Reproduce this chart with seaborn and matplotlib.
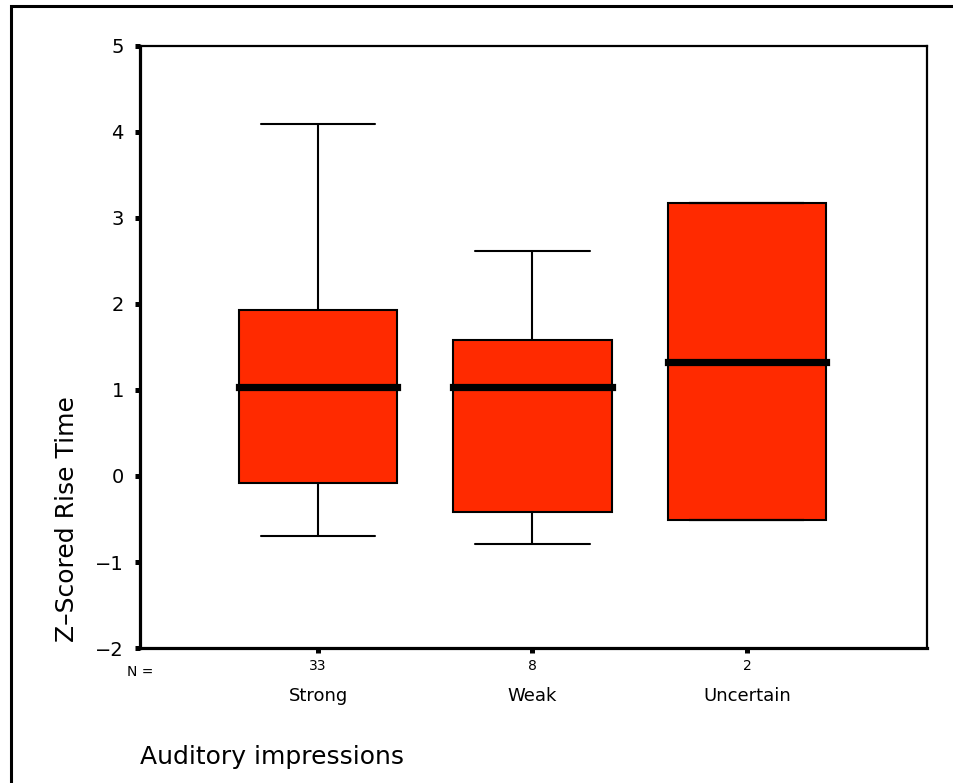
import pandas as pd
import matplotlib.pyplot as plt
import matplotlib.patches as mpatches
import seaborn as sns

# Values: [lower whisker, Q1, median, Q3, upper whisker]
categories = ["Strong", "Weak", "Uncertain"]
counts = [33, 8, 2]
strong_stats = [-0.70, -0.08, 1.03, 1.93, 4.09]
weak_stats = [-0.79, -0.42, 1.03, 1.58, 2.62]
uncertain_stats = [-0.51, -0.51, 1.32, 3.17, 3.17]
y_ticks = [-2, -1, 0, 1, 2, 3, 4, 5]

df = pd.DataFrame({
    "impression": [c for c, s in zip(categories, [strong_stats, weak_stats, uncertain_stats]) for _ in s],
    "z": strong_stats + weak_stats + uncertain_stats,
})

sns.set_style("white")
plt.rcParams["font.family"] = ["DejaVu Sans"]
plt.rcParams["text.color"] = "black"
plt.rcParams["axes.labelcolor"] = "black"
plt.rcParams["xtick.color"] = "black"
plt.rcParams["ytick.color"] = "black"

fig = plt.figure(figsize=(9.54, 7.83), dpi=100)
ax = fig.add_axes([0.1468, 0.1724, 0.9717 - 0.1468, 0.9413 - 0.1724])

sns.boxplot(data=df, x="impression", y="z", order=categories, ax=ax,
            color="#ff2a00", saturation=1, width=0.74, whis=3.0, linecolor="black",
            linewidth=1.5, fliersize=0,
            medianprops=dict(linewidth=5.2, color="black", solid_capstyle="projecting"))

# widen whisker caps to match the reference
for ln in ax.lines:
    xs, ys = ln.get_xdata(), ln.get_ydata()
    if len(xs) == 2 and ys[0] == ys[1] and ln.get_linewidth() < 3:
        mid = (xs[0] + xs[1]) / 2
        ln.set_xdata([mid - 0.268, mid + 0.268])

ax.set_xlim(-0.83, 2.84)
ax.set_ylim(-2, 5)
ax.set_yticks(y_ticks)
ax.set_yticklabels([str(t).replace("-", "\u2212") for t in y_ticks])
ax.set_xticks(range(len(categories)))
ax.set_xticklabels([str(c) for c in counts])
ax.tick_params(axis="y", direction="out", length=3.6, width=3.6, color="black",
               labelsize=14, pad=8, left=True)
ax.tick_params(axis="x", direction="out", length=3.6, width=3.6, color="black",
               labelsize=10, pad=4, bottom=True)
ax.set_xlabel("")
ax.set_ylabel("Z\u2013Scored Rise Time", fontsize=18)
ax.yaxis.set_label_coords(-0.078, 0.215)

for side in ["left", "bottom"]:
    ax.spines[side].set_linewidth(2.3)
    ax.spines[side].set_color("black")
for side in ["top", "right"]:
    ax.spines[side].set_linewidth(1.6)
    ax.spines[side].set_color("black")

trans = ax.get_xaxis_transform()
ax.text(-0.83, -0.0285, "N =", transform=trans, ha="center", va="top", fontsize=10)
for i, c in enumerate(categories):
    ax.text(i, -0.065, c, transform=trans, ha="center", va="top", fontsize=13)

fig.text(140 / 954, 1 - 757 / 783, "Auditory impressions", ha="left", va="center", fontsize=18)

# outer frame (left and top edges visible, rest runs off the image)
fig.patches.append(mpatches.Rectangle((11 / 954, -0.1), 1.2, 1 - 6 / 783 + 0.1,
                                      transform=fig.transFigure, fill=False,
                                      edgecolor="black", linewidth=2.2))

fig.savefig("out.png", dpi=100)
